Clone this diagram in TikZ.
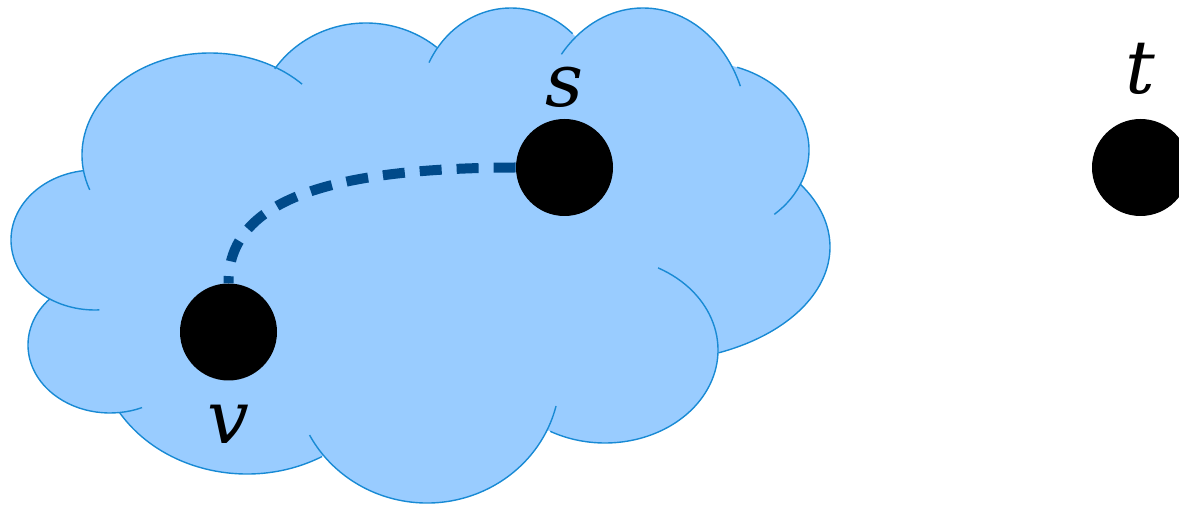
\documentclass[tikz,border=0pt]{standalone}
\usepackage{fontspec}
\setmainfont{DejaVu Serif}
\usetikzlibrary{positioning}
\definecolor{cloudfill}{RGB}{153,204,255}
\definecolor{cloudline}{RGB}{24,138,212}
\definecolor{pathblue}{RGB}{0,74,138}

\begin{document}
\begin{tikzpicture}[x=0.5pt,y=-0.5pt,
  vertex/.style={circle,fill=black,inner sep=0pt,minimum size=48.5pt},
  lbl/.style={inner sep=0pt,font=\fontsize{37}{40}\selectfont\itshape},
  lobe/.style={draw=cloudline,line width=0.7pt},
  link/.style={draw=pathblue,line width=5pt,dash pattern=on 11pt off 7.5pt}]
\useasboundingbox (0,0) rectangle (1179,507);
\clip (0,0) rectangle (1179,507);
% cloud: lobes as cx/cy/rx/ry/start/end
\def\lobes{210/155/128/102/160/316,366/127/110/104/214/310,511/108/92/100/207/312,643/133/105/125/219/338,700/150/109/88/290/407,647/247/183/115/327/427,605/350/113/93/298/479,427/375/133/128/14/152,247/344/150/130/60/148,110/345/82/68/223/67,95/240/84/70/262/87}
\fill[cloudfill] (420,250) ellipse [x radius=300, y radius=150];
\foreach \lx/\ly/\la/\lb/\ls/\le in \lobes
  \fill[cloudfill] (\lx,\ly) ellipse [x radius=\la, y radius=\lb];
\foreach \lx/\ly/\la/\lb/\ls/\le in \lobes
  \draw[lobe] ({\lx+\la*cos(\ls)},{\ly+\lb*sin(\ls)})
    arc[start angle=\ls, end angle=\le, x radius=\la, y radius=\lb];
% vertices
\node[vertex] (v) at (228.5,332) {};
\node[vertex] (s) at (564.5,167.5) {};
\node[vertex] (t) at (1140.5,167.5) {};
\node[lbl,below=12pt of v] (v-lbl) {v};
\node[lbl,above=5.5pt of s] (s-lbl) {s};
\node[lbl,above=12pt of t] (t-lbl) {t};
\draw[link] (s.west) .. controls (330,168) and (228,200) .. (v.north);
\end{tikzpicture}
\end{document}
